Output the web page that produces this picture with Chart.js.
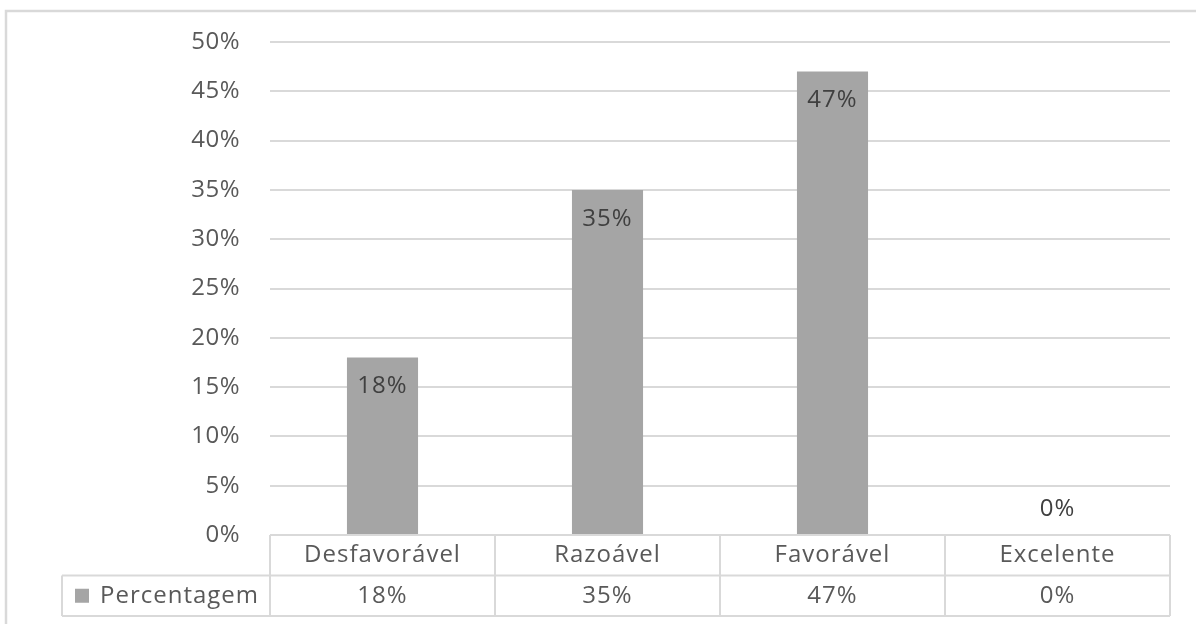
<!DOCTYPE html>
<html>
<head>
<meta charset="utf-8">
<script src="https://cdn.jsdelivr.net/npm/chart.js@4/dist/chart.umd.min.js"></script>
<style>
  html, body { margin: 0; padding: 0; background: #ffffff; }
  #wrap { width: 1196px; height: 624px; position: relative; }
</style>
</head>
<body>
<div id="wrap"><canvas id="c" width="1196" height="624"></canvas></div>
<script>
const categories = ['Desfavorável', 'Razoável', 'Favorável', 'Excelente'];
const seriesName = 'Percentagem';
const values = [0.18, 0.35, 0.47, 0.00];
const yTicks = [0, 0.05, 0.10, 0.15, 0.20, 0.25, 0.30, 0.35, 0.40, 0.45, 0.50];

const FONT = '"Open Sans", "Noto Sans", sans-serif';
const FS = 24;
const GRID = '#d9d9d9';
const TXT = '#595959';
const BAR = '#a5a5a5';
const pct = v => Math.round(v * 100) + '%';

const tablePlugin = {
  id: 'tablePlugin',
  beforeDraw(chart) {
    const ctx = chart.ctx;
    ctx.save();
    ctx.strokeStyle = GRID;
    ctx.lineWidth = 2.5;
    ctx.strokeRect(6, 11, 1300, 700);
    ctx.restore();
    ctx.letterSpacing = '0.5px';
  },
  afterDraw(chart) {
    const ctx = chart.ctx;
    const x = chart.scales.x;
    const area = chart.chartArea;
    const top = area.bottom;
    const rowH = 40.5;
    const r1 = top + rowH;
    const r2 = top + rowH * 2;
    const left = area.left, right = area.right;
    const legendLeft = 62;
    const n = categories.length;
    const colW = (right - left) / n;
    ctx.save();
    ctx.strokeStyle = GRID;
    ctx.lineWidth = 2;
    ctx.beginPath();
    ctx.moveTo(left, top); ctx.lineTo(right, top);
    ctx.moveTo(legendLeft, r1); ctx.lineTo(right, r1);
    ctx.moveTo(legendLeft, r2); ctx.lineTo(right, r2);
    for (let i = 0; i <= n; i++) {
      const lx = left + colW * i;
      ctx.moveTo(lx, top); ctx.lineTo(lx, r2);
    }
    ctx.moveTo(legendLeft, r1); ctx.lineTo(legendLeft, r2);
    ctx.stroke();

    ctx.letterSpacing = '1px';
    ctx.fillStyle = TXT;
    ctx.font = FS + 'px ' + FONT;
    ctx.textAlign = 'center';
    ctx.textBaseline = 'middle';
    categories.forEach((c, i) => {
      const cx = x.getPixelForValue(i);
      ctx.fillText(c, cx, top + rowH / 2);
      ctx.fillText(pct(values[i]), cx, r1 + rowH / 2);
    });
    // legend key
    ctx.fillStyle = BAR;
    ctx.fillRect(75, r1 + rowH / 2 - 7, 14, 14);
    ctx.fillStyle = TXT;
    ctx.textAlign = 'left';
    ctx.fillText(seriesName, 100, r1 + rowH / 2);

    // data labels
    const meta = chart.getDatasetMeta(0);
    ctx.fillStyle = '#404040';
    ctx.textAlign = 'center';
    meta.data.forEach((bar, i) => {
      const v = values[i];
      const y = v > 0.03 ? bar.y + 29 : bar.y - 26;
      ctx.fillText(pct(v), bar.x, y);
    });
    ctx.restore();
  }
};

new Chart(document.getElementById('c'), {
  type: 'bar',
  data: {
    labels: categories,
    datasets: [{
      label: seriesName,
      data: values,
      backgroundColor: BAR,
      borderWidth: 0,
      barPercentage: 0.316,
      categoryPercentage: 1.0
    }]
  },
  options: {
    responsive: false,
    animation: false,
    devicePixelRatio: 1,
    layout: { padding: { top: 42, right: 26, bottom: 8, left: 0 } },
    plugins: { legend: { display: false }, tooltip: { enabled: false } },
    scales: {
      x: {
        grid: { display: false },
        border: { display: false },
        ticks: { display: false },
        afterFit(s) { s.height = 81; s.paddingLeft = 0; s.paddingRight = 0; }
      },
      y: {
        min: 0, max: 0.5,
        afterBuildTicks(s) { s.ticks = yTicks.map(v => ({ value: v })); },
        grid: { color: GRID, lineWidth: 2, drawTicks: false },
        border: { display: false },
        ticks: {
          padding: 30,
          color: TXT,
          font: { family: FONT, size: FS },
          callback: v => pct(v)
        },
        afterFit(s) { s.width = 270; s.paddingTop = 0; s.paddingBottom = 0; }
      }
    }
  },
  plugins: [tablePlugin]
});
</script>
</body>
</html>
